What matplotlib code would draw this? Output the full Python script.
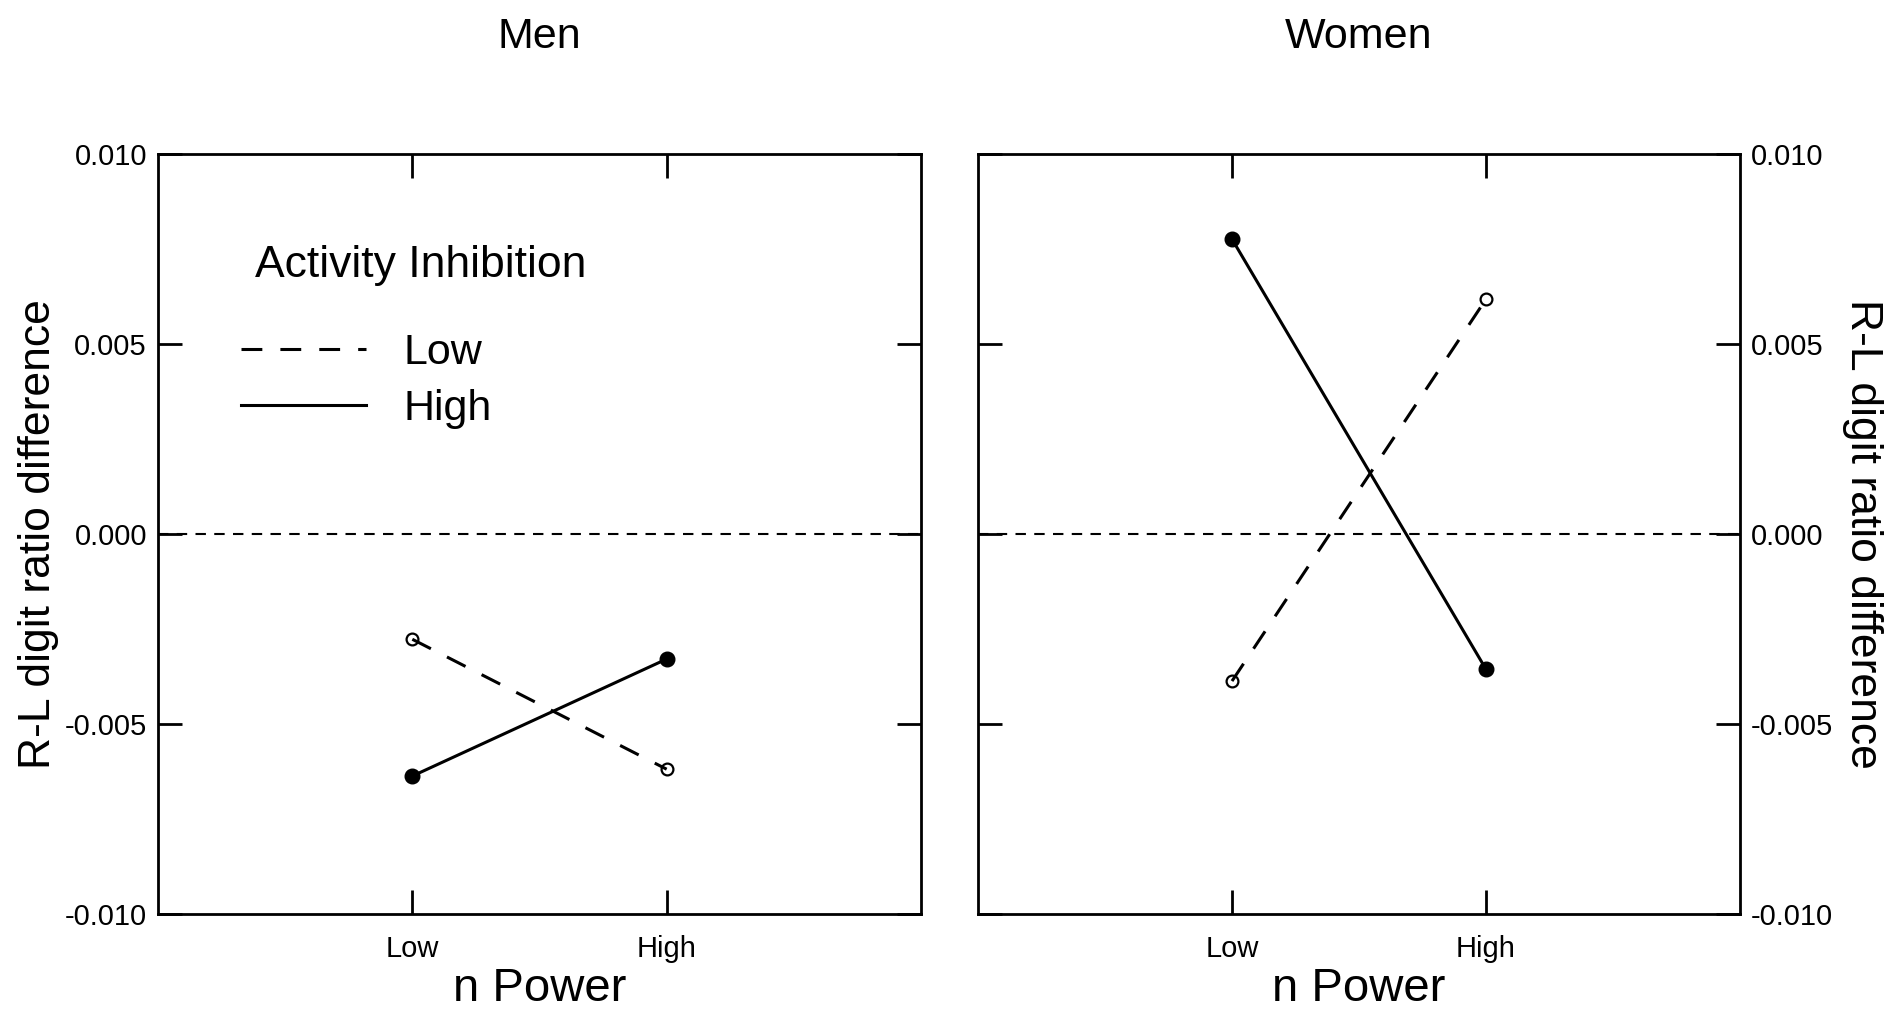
import matplotlib

matplotlib.use("Agg")
import matplotlib.pyplot as plt
from matplotlib.ticker import FixedLocator, FormatStrFormatter

plt.rcParams["font.family"] = ["Liberation Sans", "DejaVu Sans"]
plt.rcParams["axes.unicode_minus"] = False
plt.rcParams["lines.scale_dashes"] = False

power_levels = ["Low", "High"]
power_pos = [1, 2]
panels = ["Men", "Women"]

# R-L digit ratio difference, by activity inhibition group
men_low_ai = [-0.00277, -0.00619]
men_high_ai = [-0.00637, -0.00329]
women_low_ai = [-0.00387, 0.00618]
women_high_ai = [0.00776, -0.00356]

y_ticks = [-0.010, -0.005, 0.000, 0.005, 0.010]
y_label = "R-L digit ratio difference"
x_label = "n Power"
legend_title = "Activity Inhibition"
legend_labels = ["Low", "High"]

W, H = 1887, 1014
fig = plt.figure(figsize=(W / 100, H / 100), dpi=100)
ax_men = fig.add_axes([158 / W, 1 - 914 / H, 763 / W, 760 / H])
ax_women = fig.add_axes([978 / W, 1 - 914 / H, 762 / W, 760 / H])


def draw_panel(ax, title, low_ai, high_ai):
    ax.axhline(0.0, color="black", linewidth=1.5, dashes=(7.5, 6), zorder=1)
    low_line, = ax.plot(power_pos, low_ai, color="black", linewidth=2.2, dashes=(15, 13),
                        marker="o", markersize=8.5, markerfacecolor="none",
                        markeredgecolor="black", markeredgewidth=1.6, zorder=3)
    high_line, = ax.plot(power_pos, high_ai, color="black", linewidth=2.2,
                         marker="o", markersize=10.5, markerfacecolor="black",
                         markeredgecolor="black", zorder=3)
    ax.set_xlim(0, 3)
    ax.set_ylim(-0.010, 0.010)
    ax.xaxis.set_major_locator(FixedLocator(power_pos))
    ax.set_xticklabels(power_levels)
    ax.yaxis.set_major_locator(FixedLocator(y_ticks))
    ax.yaxis.set_major_formatter(FormatStrFormatter("%.3f"))
    ax.tick_params(direction="in", top=True, right=True, length=17, width=2,
                   labelsize=21)
    ax.tick_params(axis="x", pad=15)
    ax.tick_params(axis="y", pad=8)
    for spine in ax.spines.values():
        spine.set_linewidth(2)
    ax.set_title(title, fontsize=31, pad=76)
    ax.set_xlabel(x_label, fontsize=34, labelpad=3)
    return low_line, high_line


low_line, high_line = draw_panel(ax_men, panels[0], men_low_ai, men_high_ai)
draw_panel(ax_women, panels[1], women_low_ai, women_high_ai)

ax_men.set_ylabel(y_label, fontsize=32, labelpad=4)

ax_women.yaxis.tick_right()
ax_women.tick_params(axis="y", left=True, labelleft=False, labelright=True)
ax_women.yaxis.set_label_position("right")
ax_women.set_ylabel(y_label, fontsize=32, rotation=270, va="bottom", labelpad=6)

ax_men.text(0.127, 0.838, legend_title, transform=ax_men.transAxes,
            fontsize=32, ha="left", va="baseline")
ax_men.legend([low_line, high_line], legend_labels, loc="upper left",
              bbox_to_anchor=(0.109, 0.764), frameon=False, fontsize=31,
              handlelength=2.9, handletextpad=0.88, labelspacing=0.37,
              borderpad=0, borderaxespad=0, numpoints=1, markerscale=0)

fig.savefig("out.png", dpi=100)
